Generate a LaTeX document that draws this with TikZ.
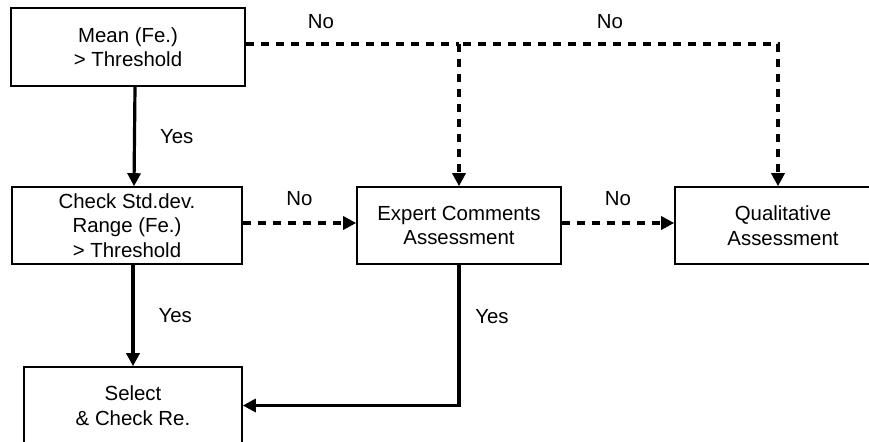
\documentclass[tikz,border=0pt]{standalone}
\usepackage{fontspec}
\setmainfont{Liberation Sans}
\usetikzlibrary{arrows.meta, positioning}

\begin{document}
\begin{tikzpicture}[x=0.5pt, y=-0.5pt,
        box/.style={draw, line width=0.8pt, align=center, inner sep=0pt,
            font=\fontsize{10.2}{12.2}\selectfont},
        yes/.style={line width=1.6pt, -{Triangle[length=6.5pt, width=6.5pt]}},
        no/.style={line width=1.6pt, dash pattern=on 4pt off 3.5pt,
            -{Triangle[length=6.5pt, width=6.5pt]}},
        lbl/.style={font=\fontsize{10.2}{12.2}\selectfont, inner sep=0pt}
    ]
        \useasboundingbox (0,0) rectangle (869,441);

        % Boxes
        \node[box, minimum width=117pt, minimum height=39pt] (mean) at (128,47)
            {Mean (Fe.)\\> Threshold};
        \node[box, minimum width=115pt, minimum height=38.5pt] (check) at (127,225.5)
            {Check Std.dev.\\Range (Fe.)\\> Threshold};
        \node[box, minimum width=102pt, minimum height=38.5pt] (expert) at (459,225.5)
            {Expert Comments\\Assessment};
        \node[box, minimum width=108pt, minimum height=38.5pt] (qual) at (783,225.5)
            {Qualitative\\Assessment};
        \node[box, minimum width=109pt, minimum height=38.5pt] (select) at (133,405.5)
            {Select\\\& Check Re.};

        % Yes branches
        \draw[yes] ([xshift=3.5pt]mean.south) -- ([xshift=3.5pt]check.north)
            node[lbl, midway, right=12pt] (y1) {Yes};
        \draw[yes] ([xshift=3pt]check.south) -- ([xshift=3pt]check.south |- select.north)
            node[lbl, midway, right=12pt] (y2) {Yes};
        \draw[yes] (expert.south) |- (select.east);
        \node[lbl] (y3) at (492,317) {Yes};

        % No branches
        \coordinate (split) at (expert.north |- 0,44);
        \draw[no, -] (mean.east |- split) -- (split);
        \draw[no] (split) -- (expert.north);
        \draw[no] ([xshift=2pt]split) -| ([xshift=-2.5pt]qual.north);
        \node[lbl] (n1) at (321,22) {No};
        \node[lbl] (n2) at (610,22) {No};

        \draw[no] (check.east |- 0,223) -- (expert.west |- 0,223)
            node[lbl, midway, above=8pt] (n3) {No};
        \draw[no] (expert.east |- 0,223) -- (qual.west |- 0,223)
            node[lbl, midway, above=8pt] (n4) {No};
    \end{tikzpicture}
\end{document}
